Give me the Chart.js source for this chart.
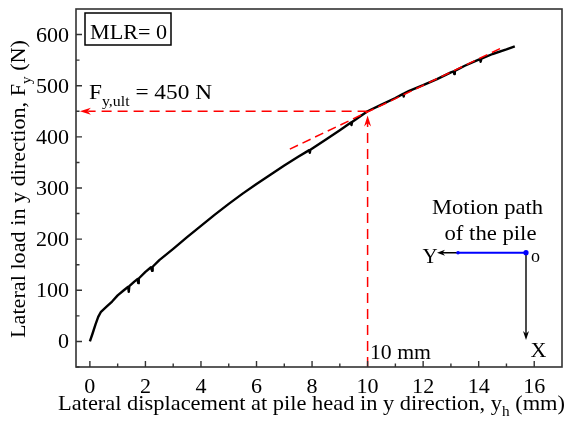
<!DOCTYPE html>
<html>
<head>
<meta charset="utf-8">
<script src="https://cdn.jsdelivr.net/npm/chart.js@4"></script>
<style>
  html, body { margin: 0; padding: 0; background: #fff; }
  #wrap { width: 567px; height: 421px; }
</style>
</head>
<body>
<div id="wrap"><canvas id="chart" width="567" height="421"></canvas></div>
<script>
// load-displacement curve (small dips included)
const dispMm = [0, 0.1, 0.2, 0.3, 0.4, 0.6, 0.8, 1.0, 1.2, 1.38, 1.40, 1.42, 1.6, 1.72, 1.74, 1.76, 2.0, 2.2, 2.24, 2.26, 2.5, 3.0, 3.5, 4.0, 4.5, 5.0, 5.5, 6.0, 6.5, 7.0, 7.5, 7.9, 7.92, 7.94, 8.5, 9.0, 9.4, 9.42, 9.44, 10.0, 10.5, 11.0, 11.28, 11.3, 11.32, 11.5, 12.0, 12.5, 13.0, 13.1, 13.12, 13.14, 13.5, 14.0, 14.05, 14.07, 14.1, 14.5, 15.0, 15.3];
const loadN = [0, 16, 33, 48, 58, 68, 78, 90, 99, 107, 97, 108, 117, 122, 114, 123, 136, 145, 138, 146, 159, 181, 204, 226, 248, 269, 289, 308, 326, 344, 361, 374, 369, 375, 395, 413, 428, 423, 429, 450, 463, 476, 484, 479, 485, 490, 501, 513, 526, 528, 523, 529, 539, 551, 552, 547, 553, 562, 571, 577];

// tangent line of the second segment
const tangentX = [7.2, 14.9];
const tangentY = [376, 576];

// ultimate load marker
const ultDisp = 10;
const ultLoad = 450;
const arrowLeftX = -0.36;   // where the horizontal arrow ends
const arrowTipY = 442;      // where the vertical arrow ends

const xTicks = [0, 2, 4, 6, 8, 10, 12, 14, 16];
const xMinor = [1, 3, 5, 7, 9, 11, 13, 15];
const yTicks = [0, 100, 200, 300, 400, 500, 600];
const yMinor = [-50, 50, 150, 250, 350, 450, 550];

const FONT = '"Liberation Serif", "Times New Roman", serif';
const AXIS = "#333";
const RED = "#ff0000";

const zip = (xs, ys) => xs.map((v, i) => ({ x: v, y: ys[i] }));

function fontOf(size) {
  return `${size}px ${FONT}`;
}

// draws text made of parts, some of them subscripts
function drawRich(ctx, parts, x, y, size, opt = {}) {
  const subSize = size * 0.68;
  let w = 0;
  parts.forEach((p) => {
    ctx.font = fontOf(p.sub ? subSize : size);
    p.w = ctx.measureText(p.t).width;
    w += p.w;
  });
  const sx = opt.target ? opt.target / w : (opt.sx || 1.05);
  ctx.save();
  ctx.translate(x, y);
  if (opt.rotate) ctx.rotate(opt.rotate);
  ctx.scale(sx, 1);
  ctx.fillStyle = opt.color || "#000";
  ctx.textBaseline = "alphabetic";
  ctx.textAlign = "left";
  let cx = opt.align === "center" ? -w / 2 : opt.align === "right" ? -w : 0;
  parts.forEach((p) => {
    ctx.font = fontOf(p.sub ? subSize : size);
    ctx.fillText(p.t, cx, p.sub ? size * 0.3 : 0);
    cx += p.w;
  });
  ctx.restore();
}

function arrowHead(ctx, tx, ty, dx, dy, len, half, color) {
  const px = -dy, py = dx;
  ctx.save();
  ctx.fillStyle = color;
  ctx.beginPath();
  ctx.moveTo(tx, ty);
  ctx.lineTo(tx - dx * len + px * half, ty - dy * len + py * half);
  ctx.lineTo(tx - dx * len * 0.7, ty - dy * len * 0.7);
  ctx.lineTo(tx - dx * len - px * half, ty - dy * len - py * half);
  ctx.closePath();
  ctx.fill();
  ctx.restore();
}

const overlay = {
  id: "overlay",
  afterDatasetsDraw(chart) {
    const { ctx, chartArea: a, scales } = chart;
    const sx = scales.x, sy = scales.y;

    // red arrow heads
    arrowHead(ctx, sx.getPixelForValue(arrowLeftX), sy.getPixelForValue(ultLoad), -1, 0, 11, 3.5, RED);
    arrowHead(ctx, sx.getPixelForValue(ultDisp), sy.getPixelForValue(arrowTipY), 0, -1, 11, 3.5, RED);

    // frame
    ctx.save();
    ctx.strokeStyle = AXIS;
    ctx.lineWidth = 1.6;
    ctx.strokeRect(a.left, a.top, a.right - a.left, a.bottom - a.top);

    // inward ticks, bottom and left only
    ctx.lineWidth = 1.4;
    ctx.beginPath();
    xTicks.forEach((v) => { const p = sx.getPixelForValue(v); ctx.moveTo(p, a.bottom); ctx.lineTo(p, a.bottom - 6); });
    xMinor.forEach((v) => { const p = sx.getPixelForValue(v); ctx.moveTo(p, a.bottom); ctx.lineTo(p, a.bottom - 3.5); });
    yTicks.forEach((v) => { const p = sy.getPixelForValue(v); ctx.moveTo(a.left, p); ctx.lineTo(a.left + 6, p); });
    yMinor.forEach((v) => { const p = sy.getPixelForValue(v); ctx.moveTo(a.left, p); ctx.lineTo(a.left + 3.5, p); });
    ctx.stroke();
    ctx.restore();

    // tick labels
    xTicks.forEach((v) => drawRich(ctx, [{ t: String(v) }], sx.getPixelForValue(v), a.bottom + 26, 21, { align: "center", sx: 1.05 }));
    yTicks.forEach((v) => drawRich(ctx, [{ t: String(v) }], a.left - 7, sy.getPixelForValue(v) + 7, 21, { align: "right", sx: 1.05 }));

    // axis titles
    drawRich(ctx, [
      { t: "Lateral displacement at pile head in y direction, y" },
      { t: "h", sub: true },
      { t: " (mm)" },
    ], 311.5, 409.5, 21, { align: "center", target: 507 });
    drawRich(ctx, [
      { t: "Lateral load in y direction, F" },
      { t: "y", sub: true },
      { t: " (N)" },
    ], 25, 189, 21, { align: "center", target: 298, rotate: -Math.PI / 2 });

    // labels inside the plot
    ctx.save();
    ctx.strokeStyle = "#000";
    ctx.lineWidth = 1.5;
    ctx.strokeRect(85, 13, 86, 32);
    ctx.restore();
    drawRich(ctx, [{ t: "MLR= 0" }], 90, 38.5, 22, { target: 77 });
    drawRich(ctx, [{ t: "F" }, { t: "y,ult", sub: true }, { t: " = 450 N" }], 89, 99, 22, { target: 123 });
    drawRich(ctx, [{ t: "10 mm" }], 370, 359.3, 21, { target: 61 });

    // motion path sketch
    drawRich(ctx, [{ t: "Motion path" }], 487.5, 214, 21, { align: "center", target: 111 });
    drawRich(ctx, [{ t: "of the pile" }], 490.5, 240, 21, { align: "center", target: 92 });

    ctx.save();
    ctx.lineWidth = 1.4;
    ctx.strokeStyle = "#000";
    ctx.beginPath();
    ctx.moveTo(458, 252.7); ctx.lineTo(441, 252.7);
    ctx.moveTo(526, 252.7); ctx.lineTo(526, 334);
    ctx.stroke();
    arrowHead(ctx, 437, 252.7, -1, 0, 8, 3, "#000");
    arrowHead(ctx, 526, 340, 0, 1, 9, 3, "#000");
    ctx.strokeStyle = "#0000ff";
    ctx.lineWidth = 2;
    ctx.beginPath();
    ctx.moveTo(458, 252.7); ctx.lineTo(526, 252.7);
    ctx.stroke();
    ctx.fillStyle = "#0000ff";
    ctx.beginPath(); ctx.arc(526, 252.7, 2.6, 0, Math.PI * 2); ctx.fill();
    ctx.beginPath(); ctx.arc(458, 252.7, 1.8, 0, Math.PI * 2); ctx.fill();
    ctx.restore();

    drawRich(ctx, [{ t: "Y" }], 422.5, 263, 21, { sx: 1.0 });
    drawRich(ctx, [{ t: "o" }], 531, 262, 18, { sx: 1.0 });
    drawRich(ctx, [{ t: "X" }], 530.5, 357, 21, { sx: 1.05 });
  },
};

new Chart(document.getElementById("chart"), {
  type: "line",
  data: {
    datasets: [
      {
        data: zip(tangentX, tangentY),
        borderColor: RED,
        borderWidth: 1.5,
        borderDash: [9, 5],
        pointRadius: 0,
      },
      {
        data: zip([ultDisp, arrowLeftX + 0.3], [ultLoad, ultLoad]),
        borderColor: RED,
        borderWidth: 1.5,
        borderDash: [10, 6],
        pointRadius: 0,
      },
      {
        data: zip([ultDisp, ultDisp], [-50, arrowTipY - 12]),
        borderColor: RED,
        borderWidth: 1.5,
        borderDash: [10, 6],
        pointRadius: 0,
      },
      {
        data: zip(dispMm, loadN),
        borderColor: "#000",
        borderWidth: 2.4,
        borderJoinStyle: "round",
        pointRadius: 0,
        tension: 0,
      },
    ],
  },
  options: {
    responsive: false,
    animation: false,
    events: [],
    layout: { padding: { top: 9, right: 5, left: 0, bottom: 0 } },
    plugins: { legend: { display: false }, tooltip: { enabled: false } },
    scales: {
      x: {
        type: "linear",
        min: -0.5,
        max: 17,
        grid: { display: false, drawTicks: false },
        border: { display: false },
        ticks: { display: false },
        afterBuildTicks: (s) => { s.ticks = xTicks.map((v) => ({ value: v })); },
        afterFit: (s) => { s.height = 54; },
      },
      y: {
        type: "linear",
        min: -50,
        max: 650,
        grid: { display: false, drawTicks: false },
        border: { display: false },
        ticks: { display: false },
        afterBuildTicks: (s) => { s.ticks = yTicks.map((v) => ({ value: v })); },
        afterFit: (s) => { s.width = 76; },
      },
    },
  },
  plugins: [overlay],
});
</script>
</body>
</html>
